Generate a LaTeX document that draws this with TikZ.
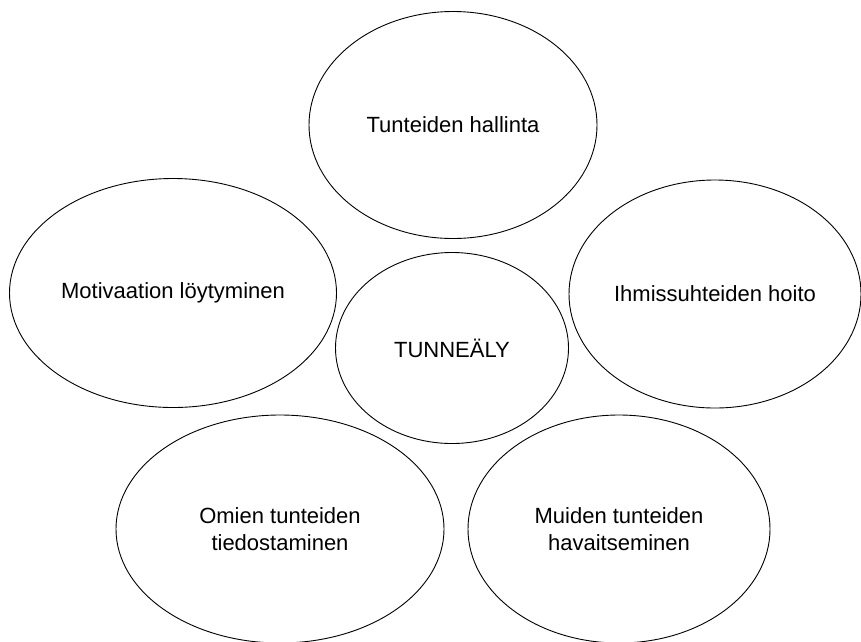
\documentclass[tikz,border=0pt]{standalone}
\usepackage{fontspec}
\setmainfont{Liberation Sans}
\usetikzlibrary{shapes.geometric}
\begin{document}
\begin{tikzpicture}[x=1pt,y=-1pt,
  bubble/.style={draw=black,line width=0.9pt,ellipse,inner sep=0pt,align=center,
    font=\fontsize{22}{27}\selectfont}]
\useasboundingbox (0,0) rectangle (861,641);
\node[bubble,minimum width=288pt,minimum height=227pt] (top) at (453,125) {Tunteiden hallinta};
\node[bubble,minimum width=327pt,minimum height=229pt] (left) at (173,293) {Motivaation löytyminen};
\node[bubble,minimum width=292pt,minimum height=228pt] (right) at (715,294) {Ihmissuhteiden hoito};
\node[bubble,minimum width=233pt,minimum height=191pt] (mid) at (452,348) {TUNNEÄLY};
\node[bubble,minimum width=328pt,minimum height=228pt] (bl) at (280,529) {Omien tunteiden\\tiedostaminen};
\node[bubble,minimum width=302pt,minimum height=228pt] (br) at (619,529) {Muiden tunteiden\\havaitseminen};
\end{tikzpicture}
\end{document}
